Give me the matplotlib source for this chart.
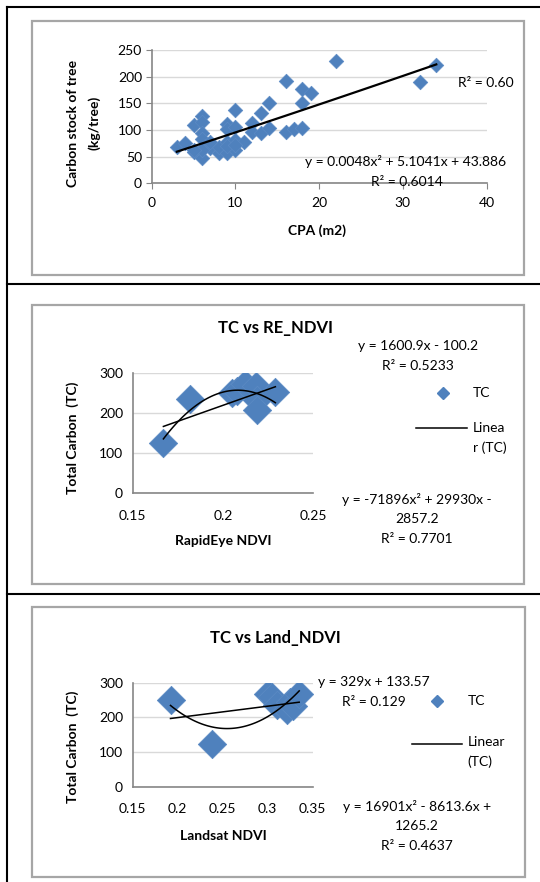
import numpy as np
import matplotlib
matplotlib.use("Agg")
import matplotlib.pyplot as plt
from matplotlib.patches import Rectangle
from matplotlib.lines import Line2D

plt.rcParams['font.family'] = ['Lato', 'DejaVu Sans']

W, H = 540, 882

# ---- panel 1: carbon stock vs crown projection area ----
cpa = [3, 4, 5, 5, 6, 6, 6, 6, 6, 6.4, 7, 8, 8, 9, 9, 9, 9, 10, 10, 10, 10,
       11, 12, 12, 13, 13, 14, 14, 16, 16, 17, 18, 18, 18, 19, 22, 32, 34,
       7, 9, 10, 6, 5]
carbon = [68, 76, 109, 59, 126, 115, 95, 84, 47, 70, 66, 56, 69, 112, 101, 78,
          56, 138, 105, 81, 62, 78, 114, 97, 131, 94, 150, 103, 192, 97, 101,
          176, 150, 103, 170, 230, 190, 222, 78, 70, 72, 62, 62]
cpa_poly = [0.0048, 5.1041, 43.886]

# ---- panel 2: TC vs RapidEye NDVI ----
re_ndvi = [0.167, 0.182, 0.205, 0.208, 0.212, 0.218, 0.219, 0.219, 0.229]
re_tc = [125, 235, 250, 256, 273, 268, 233, 208, 254]
re_lin = [1600.9, -100.2]
re_poly = [-71896, 29930, -2857.2]

# ---- panel 3: TC vs Landsat NDVI ----
ls_ndvi = [0.192, 0.238, 0.300, 0.305, 0.310, 0.321, 0.325, 0.328, 0.335]
ls_tc = [250, 123, 267, 258, 236, 221, 245, 233, 267]
ls_lin = [329, 133.57]
ls_poly = [16901, -8613.6, 1265.2]

BLUE = '#4F81BD'
GRID = '#D9D9D9'
SPINE = '#868686'

fig = plt.figure(figsize=(W / 100, H / 100), dpi=100)


def px_axes(x0, y0, x1, y1):
    # pixel box (top-left origin) -> figure axes
    return fig.add_axes([x0 / W, 1 - y1 / H, (x1 - x0) / W, (y1 - y0) / H])


def ftext(x, y, s, **kw):
    kw.setdefault('ha', 'center')
    kw.setdefault('va', 'center')
    kw.setdefault('fontsize', 10)
    fig.text(x / W, 1 - y / H, s, **kw)


def hline(x0, x1, y, **kw):
    fig.add_artist(Line2D([x0 / W, x1 / W], [1 - y / H, 1 - y / H], **kw))


def vline(x, y0, y1, **kw):
    fig.add_artist(Line2D([x / W, x / W], [1 - y0 / H, 1 - y1 / H], **kw))


def gray_box(x0, y0, x1, y1):
    fig.add_artist(Rectangle((x0 / W, 1 - y1 / H), (x1 - x0) / W, (y1 - y0) / H,
                             transform=fig.transFigure, fill=False,
                             edgecolor='#A6A6A6', lw=1.6))


def style_axes(ax, ticks=True):
    for s in ('top', 'right'):
        ax.spines[s].set_visible(False)
    for s in ('left', 'bottom'):
        ax.spines[s].set_color(SPINE)
        ax.spines[s].set_linewidth(1.2)
    ax.grid(axis='y', color=GRID, lw=1.0)
    ax.set_axisbelow(True)
    ax.tick_params(labelsize=10, colors='black', pad=3,
                   length=4 if ticks else 0, color=SPINE)


# table frame
kw_black = dict(color='black', lw=1.5)
hline(6.7, W, 7.3, **kw_black)
hline(6.7, W, 284, **kw_black)
hline(6.7, W, 593.7, **kw_black)
vline(6.7, 7.3, H, **kw_black)

gray_box(31.7, 20.7, 523.5, 275)
gray_box(31.7, 305, 524, 584)
gray_box(31.7, 607, 525, 877)

# ---------------- panel 1 ----------------
ax1 = px_axes(151.7, 50, 486.5, 183.3)
ax1.scatter(cpa, carbon, marker='D', s=55, color=BLUE, edgecolors='#5B8AC4',
            linewidths=0.5, zorder=3)
xs = np.linspace(min(cpa), max(cpa), 100)
ax1.plot(xs, np.polyval(cpa_poly, xs), color='black', lw=1.6, zorder=4)
ax1.set_xlim(0, 40)
ax1.set_ylim(0, 250)
ax1.set_xticks([0, 10, 20, 30, 40])
ax1.set_yticks([0, 50, 100, 150, 200, 250])
style_axes(ax1)
ax1.tick_params(axis='x', pad=6)

ftext(73, 123, 'Carbon stock of tree', rotation=90, fontweight='bold')
ftext(93.7, 123, '(kg/tree)', rotation=90, fontweight='bold')
ftext(317.5, 230.7, 'CPA (m2)', fontweight='bold')
ftext(486, 83, 'R² = 0.60')
ftext(406, 162, 'y = 0.0048x² + 5.1041x + 43.886')
ftext(407, 181.7, 'R² = 0.6014')

# ---------------- panel 2 ----------------
ax2 = px_axes(132.7, 373.3, 313.3, 493.3)
ax2.scatter(re_ndvi, re_tc, marker='D', s=210, color=BLUE, edgecolors='#5B8AC4',
            linewidths=0.5, zorder=3)
xs = np.linspace(min(re_ndvi), max(re_ndvi), 100)
ax2.plot(xs, np.polyval(re_lin, xs), color='black', lw=1.1, zorder=4)
ax2.plot(xs, np.polyval(re_poly, xs), color='black', lw=1.1, zorder=4)
ax2.set_xlim(0.15, 0.25)
ax2.set_ylim(0, 300)
ax2.set_xticks([0.15, 0.2, 0.25])
ax2.set_xticklabels(['0.15', '0.2', '0.25'])
ax2.set_yticks([0, 100, 200, 300])
style_axes(ax2, ticks=False)
ax2.tick_params(axis='x', pad=12)
ax2.tick_params(axis='y', pad=7)

ftext(275.5, 328, 'TC vs RE_NDVI', fontweight='bold', fontsize=12)
ftext(73, 438, 'Total Carbon  (TC)', rotation=90, fontweight='bold')
ftext(223, 541, 'RapidEye NDVI', fontweight='bold')
ftext(418, 346, 'y = 1600.9x - 100.2')
ftext(418, 366, 'R² = 0.5233')
fig.add_artist(Line2D([442.7 / W], [1 - 392.7 / H], marker='D', markersize=6,
                      color=BLUE, lw=0))
ftext(473, 392.7, 'TC', ha='left')
hline(416, 467, 428, color='black', lw=1.1)
ftext(473, 428, 'Linea', ha='left')
ftext(473, 448, 'r (TC)', ha='left')
ftext(417, 500, 'y = -71896x² + 29930x -')
ftext(417, 519, '2857.2')
ftext(417, 539, 'R² = 0.7701')

# ---------------- panel 3 ----------------
ax3 = px_axes(132.7, 682.7, 312.7, 786.7)
ax3.scatter(ls_ndvi, ls_tc, marker='D', s=210, color=BLUE, edgecolors='#5B8AC4',
            linewidths=0.5, zorder=3)
xs = np.linspace(min(ls_ndvi), max(ls_ndvi), 100)
ax3.plot(xs, np.polyval(ls_lin, xs), color='black', lw=1.1, zorder=4)
ax3.plot(xs, np.polyval(ls_poly, xs), color='black', lw=1.1, zorder=4)
ax3.set_xlim(0.15, 0.35)
ax3.set_ylim(0, 300)
ax3.set_xticks([0.15, 0.2, 0.25, 0.3, 0.35])
ax3.set_xticklabels(['0.15', '0.2', '0.25', '0.3', '0.35'])
ax3.set_yticks([0, 100, 200, 300])
style_axes(ax3, ticks=False)
ax3.tick_params(axis='x', pad=12)
ax3.tick_params(axis='y', pad=7)

ftext(275.5, 638, 'TC vs Land_NDVI', fontweight='bold', fontsize=12)
ftext(73, 746.7, 'Total Carbon  (TC)', rotation=90, fontweight='bold')
ftext(223, 836, 'Landsat NDVI', fontweight='bold')
ftext(318, 682, 'y = 329x + 133.57', ha='left')
ftext(374, 701.7, 'R² = 0.129')
fig.add_artist(Line2D([437 / W], [1 - 701 / H], marker='D', markersize=6,
                      color=BLUE, lw=0))
ftext(467.6, 701, 'TC', ha='left')
hline(411.5, 462, 743.7, color='black', lw=1.1)
ftext(467.6, 742, 'Linear', ha='left')
ftext(467.6, 762, '(TC)', ha='left')
ftext(417, 806.7, 'y = 16901x² - 8613.6x +')
ftext(417, 826, '1265.2')
ftext(417, 845.7, 'R² = 0.4637')

fig.savefig('out.png', dpi=100, facecolor='white')
